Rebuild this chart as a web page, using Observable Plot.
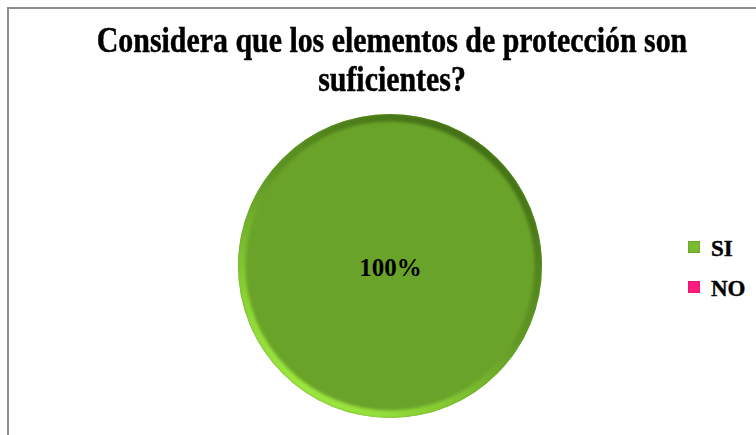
<!DOCTYPE html>
<html>
<head>
<meta charset="utf-8">
<script src="https://cdn.jsdelivr.net/npm/d3@7"></script>
<script src="https://cdn.jsdelivr.net/npm/@observablehq/plot@0.6"></script>
<style>
  html, body { margin: 0; padding: 0; background: #fff; }
  #chart { position: relative; width: 756px; height: 435px; overflow: hidden; background: #fff; }
  #frame { position: absolute; left: 7px; top: 7px; width: 900px; height: 600px;
           border-left: 2px solid #8f8f8f; border-top: 2px solid #8f8f8f; }
  #title { position: absolute; left: 0; top: 21px; width: 784px; text-align: center;
           font-family: "Liberation Serif", "Times New Roman", serif; font-weight: bold;
           font-size: 36px; line-height: 39px; color: #000; -webkit-text-stroke: 0.5px #000;
           transform: scaleX(0.83); transform-origin: 392px 0; }
  #plot { position: absolute; left: 0; top: 0; }
  #legend { position: absolute; left: 688px; top: 229px;
            font-family: "Liberation Serif", "Times New Roman", serif; font-weight: bold; font-size: 23px;
            -webkit-text-stroke: 0.4px #000; }
  .item { display: flex; align-items: center; height: 40px; }
  .sw { width: 12px; height: 12px; margin-right: 11px; margin-top: -5px; }
</style>
</head>
<body>
<div id="chart">
  <div id="frame"></div>
  <div id="plot"></div>
  <div id="title"></div>
  <div id="legend"></div>
</div>
<script>
const titleLines = ["Considera que los elementos de protección son", "suficientes?"];
const categories = ["SI", "NO"];
const values = [100, 0];
const colors = ["#6aa329", "#e0186e"];

const data = categories.map((c, i) => ({category: c, value: values[i]}));
const total = d3.sum(values);

const color = Plot.scale({color: {type: "ordinal", domain: categories, range: colors}});

document.getElementById("title").innerHTML = titleLines.join("<br>");

const pieMark = (index, scales, channels, dim) => {
  const x0 = dim.marginLeft, x1 = dim.width - dim.marginRight;
  const y0 = dim.marginTop, y1 = dim.height - dim.marginBottom;
  const cx = (x0 + x1) / 2, cy = (y0 + y1) / 2;
  const r = Math.min(x1 - x0, y1 - y0) / 2;
  const svg = d3.create("svg:g");
  const defs = svg.append("defs");
  const lg = defs.append("linearGradient").attr("id", "rim")
    .attr("x1", "0.8").attr("y1", "0").attr("x2", "0.15").attr("y2", "1");
  lg.append("stop").attr("offset", "0").attr("stop-color", "#3f6a12");
  lg.append("stop").attr("offset", "0.45").attr("stop-color", "#5f9524");
  lg.append("stop").attr("offset", "0.75").attr("stop-color", "#86cc33");
  lg.append("stop").attr("offset", "1").attr("stop-color", "#a8f545");
  defs.append("filter").attr("id", "soft").attr("x", "-10%").attr("y", "-10%").attr("width", "120%").attr("height", "120%")
    .append("feGaussianBlur").attr("stdDeviation", 1.6);
  defs.append("clipPath").attr("id", "pieclip").append("circle").attr("r", r);

  const g = svg.append("g").attr("transform", `translate(${cx},${cy})`);
  const arcs = d3.pie().sort(null).value(d => d.value)(data);
  const arc = d3.arc().innerRadius(0).outerRadius(r);
  g.selectAll("path.slice").data(arcs.filter(a => a.data.value > 0)).join("path")
    .attr("class", "slice")
    .attr("d", arc)
    .attr("fill", a => color.apply(a.data.category));
  g.append("g").attr("clip-path", "url(#pieclip)")
    .append("circle").attr("r", r - 3.5).attr("fill", "none")
    .attr("stroke", "url(#rim)").attr("stroke-width", 8).attr("filter", "url(#soft)");
  return svg.node();
};

const plot = Plot.plot({
  width: 756,
  height: 435,
  marginLeft: 238,
  marginRight: 214,
  marginTop: 114,
  marginBottom: 17,
  style: {background: "transparent", overflow: "visible"},
  marks: [
    pieMark,
    Plot.text(data.filter(d => d.value === total), {
      text: d => `${Math.round(d.value / total * 100)}%`,
      frameAnchor: "middle",
      dy: 1,
      fontSize: 25,
      fontWeight: "bold",
      fontFamily: "Liberation Serif, Times New Roman, serif",
      fill: "#000"
    })
  ]
});
document.getElementById("plot").appendChild(plot);

const legend = d3.select("#legend");
categories.forEach(c => {
  const it = legend.append("div").attr("class", "item");
  it.append("div").attr("class", "sw").style("background", color.apply(c))
    .style("filter", "brightness(1.15)")
    .style("box-shadow", "inset 0 0 2px rgba(0,0,0,0.35)");
  it.append("span").text(c);
});
</script>
</body>
</html>
